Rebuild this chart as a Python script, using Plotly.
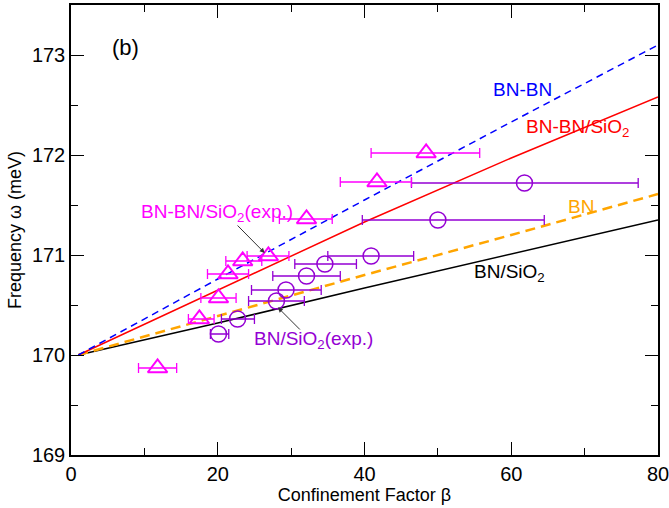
import plotly.graph_objects as go

# Theory curves
beta_theory = [1, 20, 40, 60, 80]
w_bnbn = [170.0, 170.76, 171.55, 172.33, 173.10]
w_bnbn_sio2 = [170.0, 170.65, 171.33, 171.97, 172.58]
w_bn = [170.0, 170.39, 170.80, 171.20, 171.61]
w_bn_sio2 = [170.0, 170.32, 170.67, 171.01, 171.35]

# Experimental BN-BN/SiO2 (triangles)
tri_beta = [11.8, 17.5, 20.1, 21.4, 23.4, 26.9, 32.1, 41.7, 48.4]
tri_w = [169.87, 170.36, 170.57, 170.81, 170.94, 170.99, 171.36, 171.73, 172.02]
tri_lo = [9.2, 16.0, 17.7, 18.6, 21.1, 24.0, 28.4, 36.7, 40.9]
tri_hi = [14.4, 19.5, 22.5, 24.2, 26.0, 29.7, 35.6, 46.4, 55.7]

# Experimental BN/SiO2 (circles)
cir_beta = [20.1, 22.7, 28.0, 29.3, 32.1, 34.6, 40.9, 50.0, 61.8]
cir_w = [170.21, 170.36, 170.54, 170.65, 170.79, 170.91, 170.99, 171.35, 171.72]
cir_lo = [19.0, 20.5, 24.2, 24.6, 27.5, 30.5, 35.0, 39.7, 46.4]
cir_hi = [21.5, 25.0, 31.8, 34.1, 36.7, 38.9, 46.7, 64.5, 77.3]

MAG = "#ff00ff"
PUR = "#9400d3"
FONT = "Liberation Sans, Arial, sans-serif"

fig = go.Figure()
fig.add_trace(go.Scatter(x=beta_theory, y=w_bn_sio2, mode="lines",
                         line=dict(color="black", width=1.5), showlegend=False))
fig.add_trace(go.Scatter(x=beta_theory, y=w_bn, mode="lines",
                         line=dict(color="#ffa500", width=2.5, dash="10px,6px"), showlegend=False))
fig.add_trace(go.Scatter(x=beta_theory, y=w_bnbn_sio2, mode="lines",
                         line=dict(color="red", width=1.5), showlegend=False))
fig.add_trace(go.Scatter(x=beta_theory, y=w_bnbn, mode="lines",
                         line=dict(color="blue", width=1.5, dash="7px,5px"), showlegend=False))

fig.add_trace(go.Scatter(
    x=cir_beta, y=cir_w, mode="markers",
    marker=dict(symbol="circle-open", size=16, color=PUR, line=dict(width=1.5, color=PUR)),
    error_x=dict(type="data", symmetric=False,
                 array=[h - b for h, b in zip(cir_hi, cir_beta)],
                 arrayminus=[b - l for l, b in zip(cir_lo, cir_beta)],
                 color=PUR, thickness=1.3, width=5),
    showlegend=False))
fig.add_trace(go.Scatter(
    x=tri_beta, y=tri_w, mode="markers",
    marker=dict(symbol="triangle-up-open", size=17, color=MAG, line=dict(width=2, color=MAG)),
    error_x=dict(type="data", symmetric=False,
                 array=[h - b for h, b in zip(tri_hi, tri_beta)],
                 arrayminus=[b - l for l, b in zip(tri_lo, tri_beta)],
                 color=MAG, thickness=1.3, width=5),
    showlegend=False))

ann = [
    dict(x=7.4, y=173.08, text="(b)", showarrow=False, font=dict(size=22, color="black")),
    dict(x=61.6, y=172.66, text="BN-BN", showarrow=False, font=dict(size=19, color="blue")),
    dict(x=61.8, y=172.27, text="BN-BN/SiO<sub>2</sub>", showarrow=False, xanchor="left",
         font=dict(size=19, color="red")),
    dict(x=69.5, y=171.49, text="BN", showarrow=False, font=dict(size=19, color="#ffa500")),
    dict(x=54.7, y=170.82, text="BN/SiO<sub>2</sub>", showarrow=False, xanchor="left",
         font=dict(size=19, color="black")),
    dict(x=9.2, y=171.42, text="BN-BN/SiO<sub>2</sub>(exp.)", showarrow=False, xanchor="left",
         font=dict(size=19, color=MAG)),
    dict(x=24.7, y=170.15, text="BN/SiO<sub>2</sub>(exp.)", showarrow=False, xanchor="left",
         font=dict(size=19, color=PUR)),
    dict(x=26.4, y=171.02, ax=22.5, ay=171.31, axref="x", ayref="y", text="",
         showarrow=True, arrowhead=2, arrowsize=1, arrowwidth=1, arrowcolor="#333333", standoff=0),
    dict(x=28.2, y=170.475, ax=31.4, ay=170.24, axref="x", ayref="y", text="",
         showarrow=True, arrowhead=2, arrowsize=1, arrowwidth=1, arrowcolor="#333333", standoff=0),
]

axis_common = dict(showline=True, linecolor="black", linewidth=1.5, mirror="allticks",
                   ticks="inside", ticklen=13, tickwidth=1, tickcolor="black",
                   showgrid=False, zeroline=False, automargin=False,
                   ticklabeloverflow="allow",
                   tickfont=dict(size=20, color="black", family=FONT))

fig.update_xaxes(range=[0, 80], tickvals=[0, 20, 40, 60, 80],
                 minor=dict(tickvals=[10, 30, 50, 70], ticklen=7, ticks="inside", tickcolor="black"),
                 title=dict(text="Confinement Factor β", font=dict(size=18, color="black", family=FONT), standoff=2),
                 **axis_common)
fig.update_yaxes(range=[169, 173.5], tickvals=[169, 170, 171, 172, 173],
                 minor=dict(tickvals=[169.5, 170.5, 171.5, 172.5], ticklen=7, ticks="inside", tickcolor="black"),
                 title=dict(text="Frequency ω (meV)", font=dict(size=18, color="black", family=FONT), standoff=6),
                 **axis_common)

fig.update_layout(width=669, height=508, margin=dict(l=71, r=11, t=5, b=53),
                  plot_bgcolor="white", paper_bgcolor="white",
                  font=dict(family=FONT, color="black"), annotations=ann)

fig.write_html("out.html", config={"displayModeBar": False},
               post_script="document.body.style.margin='0px';document.body.style.padding='0px';")
